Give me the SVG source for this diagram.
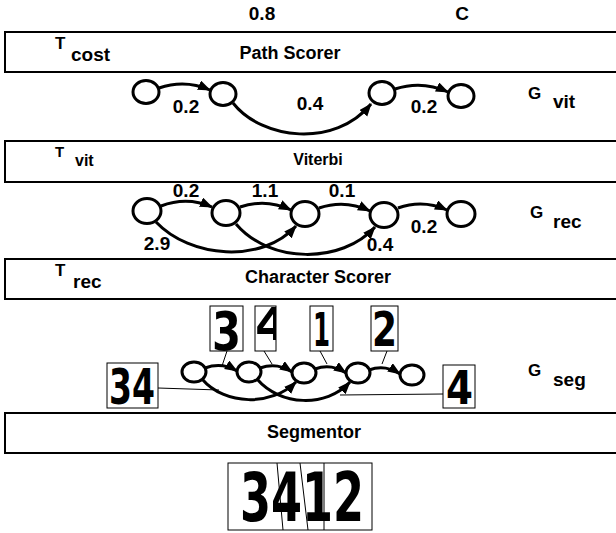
<svg xmlns="http://www.w3.org/2000/svg" width="616" height="533" viewBox="0 0 616 533">
<style>
text{font-family:"Liberation Sans",Arial,sans-serif;font-weight:bold;fill:#000}
.box{fill:#fff;stroke:#000;stroke-width:2}
.lbl{font-size:18px;text-anchor:middle}
.el{font-size:19px;text-anchor:middle}
.sup{font-size:17px}
.sub{font-size:19px}
.node{fill:#fff;stroke:#000;stroke-width:3}
.edge{fill:none;stroke:#000;stroke-width:3;marker-end:url(#ah)}
.thin{fill:none;stroke:#000;stroke-width:1}
.dbox{fill:#fff;stroke:#000;stroke-width:1}
.hw{font-family:"DejaVu Sans Condensed","DejaVu Sans",sans-serif;font-weight:bold}
</style>
<defs>
<marker id="ah" markerUnits="userSpaceOnUse" markerWidth="14" markerHeight="12" refX="12" refY="5" orient="auto">
<path d="M0,0 L13,5 L0,10 Z" fill="#000"/>
</marker>
<clipPath id="frag"><rect x="255" y="306" width="21" height="45"/></clipPath>
</defs>
<rect width="616" height="533" fill="#fff"/>

<g id="top-labels">
<text class="el" x="262" y="20">0.8</text>
<text class="el" x="462" y="20">C</text>
</g>

<g id="path-scorer">
<rect class="box" x="5" y="32" width="620" height="40"/>
<text class="sup" x="55" y="49">T</text>
<text class="sub" x="71" y="61">cost</text>
<text class="lbl" x="290" y="59">Path Scorer</text>
</g>

<g id="viterbi">
<rect class="box" x="5" y="141" width="620" height="41"/>
<text class="sup" x="55" y="157" style="font-size:15px">T</text>
<text class="sub" x="75" y="166" style="font-size:16px">vit</text>
<text class="lbl" x="318" y="165" style="font-size:16px">Viterbi</text>
</g>

<g id="character-scorer">
<rect class="box" x="5" y="259" width="620" height="40"/>
<text class="sup" x="55" y="276">T</text>
<text class="sub" x="73" y="288">rec</text>
<text class="lbl" x="318" y="283">Character Scorer</text>
</g>

<g id="segmentor">
<rect class="box" x="5" y="413" width="620" height="40"/>
<text class="lbl" x="314" y="438">Segmentor</text>
</g>

<g id="gvit">
<ellipse id="vit1" class="node" cx="146" cy="92" rx="13" ry="11.5"/>
<ellipse id="vit2" class="node" cx="223" cy="94" rx="13" ry="11.5"/>
<ellipse id="vit3" class="node" cx="382" cy="93" rx="13" ry="11.5"/>
<ellipse id="vit4" class="node" cx="461" cy="96" rx="13" ry="11.5"/>
<text class="sup" x="528" y="99">G</text>
<text class="sub" x="553" y="108">vit</text>
</g>

<g id="grec">
<ellipse id="rec1" class="node" cx="147" cy="211" rx="14" ry="12.5"/>
<ellipse id="rec2" class="node" cx="226" cy="213" rx="14" ry="12.5"/>
<ellipse id="rec3" class="node" cx="305" cy="214" rx="14" ry="12.5"/>
<ellipse id="rec4" class="node" cx="384" cy="215" rx="14" ry="12.5"/>
<ellipse id="rec5" class="node" cx="461" cy="214" rx="14" ry="12.5"/>
<text class="sup" x="530" y="218">G</text>
<text class="sub" x="553" y="228">rec</text>
</g>

<g id="gseg">
<ellipse id="seg1" class="node" cx="194" cy="372" rx="12" ry="10"/>
<ellipse id="seg2" class="node" cx="249" cy="372" rx="12" ry="10"/>
<ellipse id="seg3" class="node" cx="304" cy="373" rx="12" ry="10"/>
<ellipse id="seg4" class="node" cx="358" cy="373" rx="12" ry="10"/>
<ellipse id="seg5" class="node" cx="412" cy="375" rx="12" ry="10"/>
<text class="sup" x="528" y="376">G</text>
<text class="sub" x="553" y="386">seg</text>
</g>

<g id="seg-images">
<g id="img-3"><rect class="dbox" x="210" y="306" width="33" height="45"/><text class="hw" x="212" y="350" font-size="54" textLength="29" lengthAdjust="spacingAndGlyphs">3</text></g>
<g id="img-4a"><rect class="dbox" x="255" y="306" width="21" height="45"/><text class="hw" x="255" y="340" font-size="44" clip-path="url(#frag)" textLength="34" lengthAdjust="spacingAndGlyphs">4</text></g>
<g id="img-1"><rect class="dbox" x="310" y="306" width="23" height="45"/><text class="hw" x="313" y="346" font-size="46" textLength="17" lengthAdjust="spacingAndGlyphs">1</text></g>
<g id="img-2"><rect class="dbox" x="371" y="306" width="27" height="45"/><text class="hw" x="372" y="346" font-size="48" textLength="25" lengthAdjust="spacingAndGlyphs">2</text></g>
<g id="img-34"><rect class="dbox" x="107" y="363" width="51" height="45"/><text class="hw" x="109" y="404" font-size="50" textLength="46" lengthAdjust="spacingAndGlyphs">34</text></g>
<g id="img-4"><rect class="dbox" x="443" y="365" width="32" height="43"/><text class="hw" x="446" y="404" font-size="46" textLength="27" lengthAdjust="spacingAndGlyphs">4</text></g>
</g>

<g id="input-image">
<rect class="dbox" x="228" y="463" width="144" height="67"/>
<text class="hw" x="240" y="521" font-size="68" textLength="124" lengthAdjust="spacingAndGlyphs">3412</text>
<path class="thin" d="M277,463 L283,530 M300,463 L308,530 M324,463 L324,530"/>
</g>

<g id="connectors">
<path class="edge" d="M159,88 Q185,79 210,90"/>
<path class="edge" d="M233,103 C262,140 335,148 371,104"/>
<path class="edge" d="M395,89 Q422,80 448,92"/>

<path class="edge" d="M161,206 Q187,196 212,207"/>
<path class="edge" d="M240,207 Q266,198 291,210"/>
<path class="edge" d="M319,208 Q345,199 370,211"/>
<path class="edge" d="M398,208 Q423,199 447,210"/>
<path class="edge" d="M156,222 C190,258 262,264 296,226"/>
<path class="edge" d="M236,224 C270,264 342,264 375,227"/>

<path class="edge" d="M205,368 Q222,362 237,371"/>
<path class="edge" d="M260,368 Q277,362 292,372"/>
<path class="edge" d="M315,369 Q331,363 346,373"/>
<path class="edge" d="M369,370 Q385,364 400,374"/>
<path class="edge" d="M202,379 C225,406 272,406 296,382"/>
<path class="edge" d="M257,379 C280,406 326,408 350,382"/>

<path class="thin" d="M227,351 L222,366 M264,351 L272,364 M320,351 L327,364 M387,351 L382,364 M158,388 L219,390 M443,394 L340,395"/>
</g>

<g id="edge-labels">
<text class="el" x="186" y="113">0.2</text>
<text class="el" x="310" y="110">0.4</text>
<text class="el" x="424" y="113">0.2</text>
<text class="el" x="186" y="197">0.2</text>
<text class="el" x="265" y="197">1.1</text>
<text class="el" x="342" y="197">0.1</text>
<text class="el" x="424" y="233">0.2</text>
<text class="el" x="157" y="250">2.9</text>
<text class="el" x="380" y="251">0.4</text>
</g>
</svg>
